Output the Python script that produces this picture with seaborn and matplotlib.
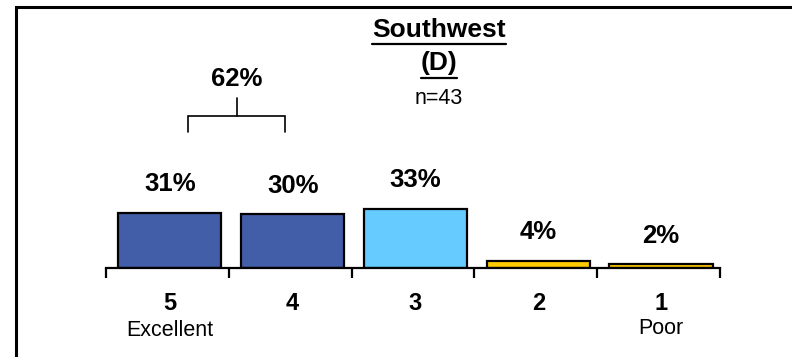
import matplotlib
matplotlib.use("Agg")
import matplotlib.pyplot as plt
import matplotlib.transforms as mtransforms
import seaborn as sns
import pandas as pd
from matplotlib.patches import Rectangle
from matplotlib.lines import Line2D

# Ratings data
ratings = ["5", "4", "3", "2", "1"]
shares = [31, 30, 33, 4, 2]
bar_colors = ["#435EA8", "#435EA8", "#66CCFF", "#FFCC00", "#FFCC00"]
anchors = ["Excellent", "", "", "", "Poor"]
top_two_total = 62
title = "Southwest"
subtitle = "(D)"
sample_note = "n=43"

sns.set_theme(style="white")
plt.rcParams["font.family"] = ["Liberation Sans", "DejaVu Sans"]

W, H = 792, 357
fig = plt.figure(figsize=(W / 100, H / 100), dpi=100)
# axes box in pixel terms: x 106..720, baseline at y=268, 1.79 px per percent
ax = fig.add_axes([106 / W, 1 - 268 / H, 614 / W, 179 / H])

df = pd.DataFrame({"rating": ratings, "share": shares})
sns.barplot(data=df, x="rating", y="share", hue="rating", palette=bar_colors,
            order=ratings, hue_order=ratings, legend=False, width=0.84,
            edgecolor="black", linewidth=1.6, saturation=1, ax=ax)

ax.set_xlim(-0.52, 4.48)
ax.set_ylim(0, 100)
ax.set_xlabel("")
ax.set_ylabel("")
ax.set_yticks([])
for side in ["top", "right", "left"]:
    ax.spines[side].set_visible(False)
ax.spines["bottom"].set_linewidth(1.6)
ax.spines["bottom"].set_color("black")
ax.set_xticks([i - 0.52 for i in range(len(ratings) + 1)])
ax.set_xticklabels([])
ax.tick_params(axis="x", bottom=True, direction="out", length=7, width=1.6,
               color="black")

# value labels above each bar
for i, v in enumerate(shares):
    ax.annotate(f"{v}%", xy=(i, v), xytext=(0, 20.5), textcoords="offset points",
                ha="center", va="center", fontsize=18.5, fontweight="bold",
                color="black", annotation_clip=False)

# category labels under the axis
xfig = mtransforms.blended_transform_factory(ax.transData, fig.transFigure)
for i, (r, a) in enumerate(zip(ratings, anchors)):
    ax.text(i, 1 - 303 / H, r, transform=xfig, ha="center", va="center",
            fontsize=17, fontweight="bold", color="black")
    if a:
        ypix = 331 if i == 0 else 328
        ax.text(i, 1 - ypix / H, a, transform=xfig, ha="center", va="center",
                fontsize=15.5, color="black")

# bracket grouping the top two ratings
bx0, bx1 = 0.15, 0.94
bxm = (bx0 + bx1) / 2
ax.plot([bx0, bx0, bx1, bx1], [76, 85, 85, 76], color="black", lw=1.2,
        clip_on=False, solid_joinstyle="miter")
ax.plot([bxm, bxm], [85, 95], color="black", lw=1.2, clip_on=False)
ax.text(bxm, 105.6, f"{top_two_total}%", ha="center", va="center",
        fontsize=18.5, fontweight="bold", color="black", clip_on=False)

# heading
cx = 439 / W
t1 = fig.text(cx, 1 - 30 / H, title, ha="center", va="center", fontsize=19,
              fontweight="bold", color="black")
t2 = fig.text(cx, 1 - 63 / H, subtitle, ha="center", va="center", fontsize=19,
              fontweight="bold", color="black")
fig.text(cx, 1 - 98 / H, sample_note, ha="center", va="center", fontsize=15.5,
         color="black")

fig.canvas.draw()
renderer = fig.canvas.get_renderer()
for t, ypix in ((t1, 44), (t2, 78)):
    bb = t.get_window_extent(renderer=renderer)
    yline = 1 - ypix / H
    fig.add_artist(Line2D([bb.x0 / W, bb.x1 / W], [yline, yline],
                          transform=fig.transFigure, color="black", lw=1.6))

# frame around the chart area (extends past the right and bottom edges)
fig.add_artist(Rectangle((15.5 / W, -0.1), 1.2, (1 - 6.5 / H) + 0.1,
                         transform=fig.transFigure, fill=False,
                         edgecolor="black", lw=2.2))

fig.savefig("out.png", dpi=100)
